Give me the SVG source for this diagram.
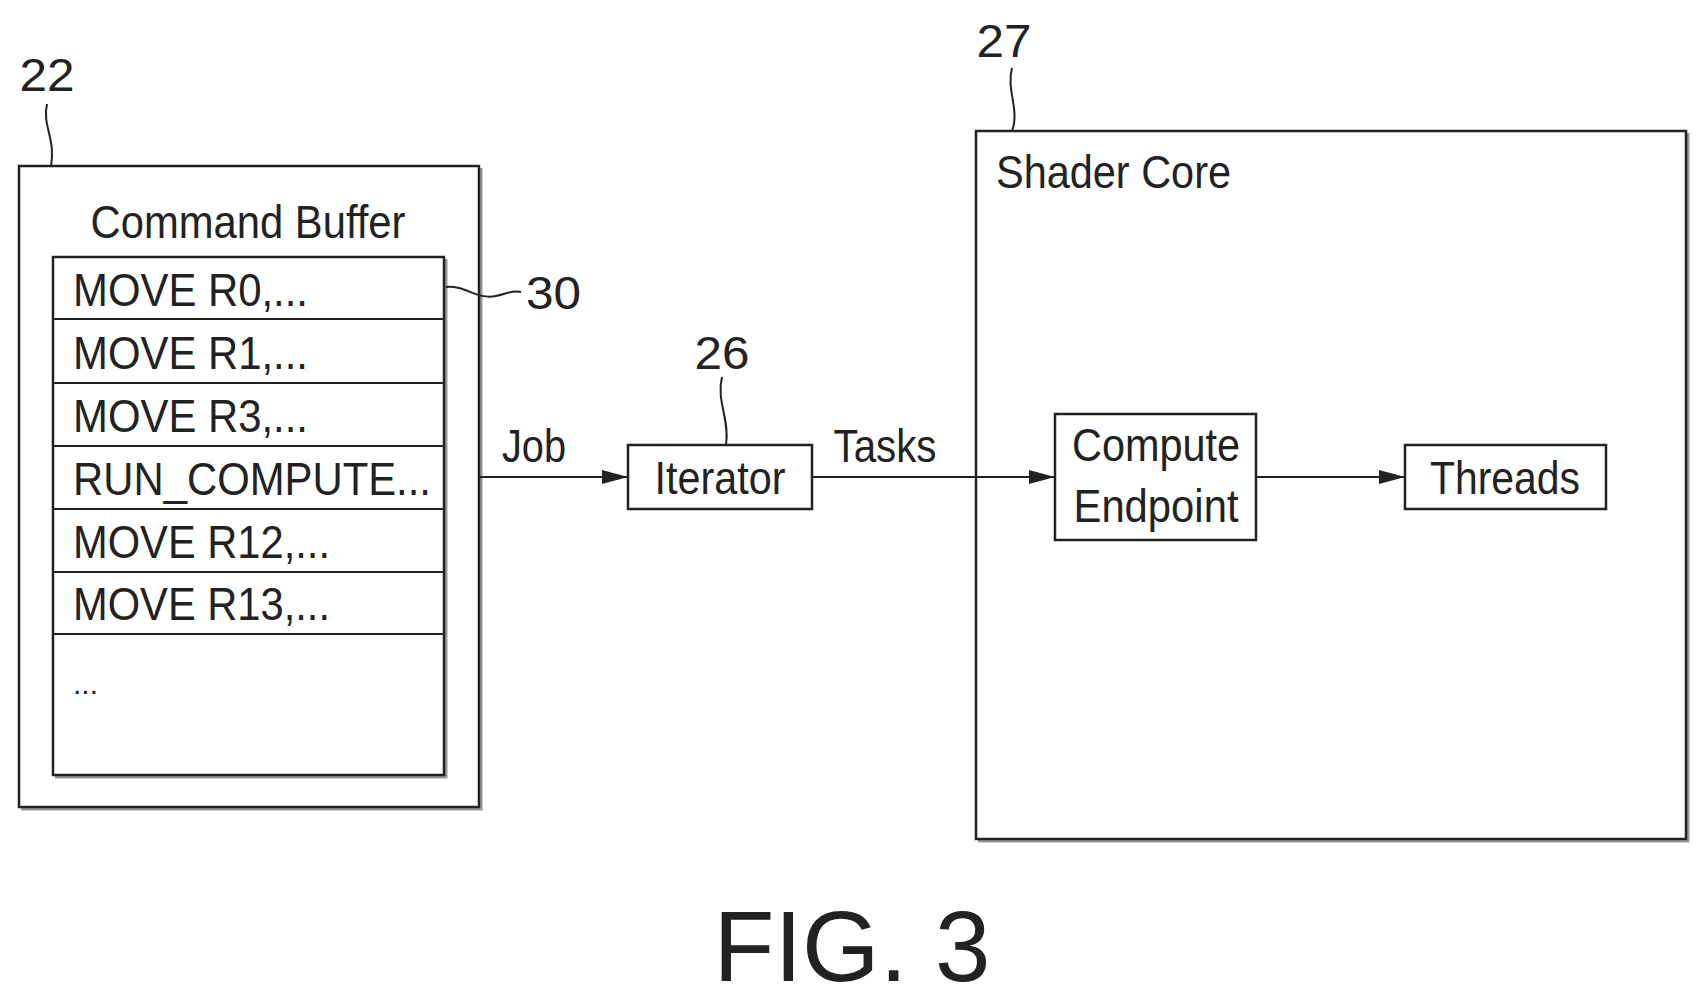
<svg xmlns="http://www.w3.org/2000/svg" width="1705" height="1004" viewBox="0 0 1705 1004">
<style>
.b{fill:#fff;stroke:#222;stroke-width:2.5}
.s{fill:none;stroke:#999;stroke-width:3}
.t{font-family:"Liberation Sans",Arial,sans-serif;font-size:46px;fill:#222}
.l{fill:none;stroke:#222;stroke-width:2}
</style>
<defs><marker id="a" viewBox="0 0 10 10" refX="10" refY="5" markerWidth="26" markerHeight="14" markerUnits="userSpaceOnUse" orient="auto" preserveAspectRatio="none"><path d="M0,0L10,5L0,10z" fill="#222"/></marker></defs>
<rect width="1705" height="1004" fill="#fff"/>
<g transform="translate(-4,0)">
<g id="cmdbuf">
<path class="s" d="M485,168V809H25"/>
<rect class="b" x="23" y="166" width="460" height="641"/>
<text class="t" x="252" y="238" text-anchor="middle" textLength="315" lengthAdjust="spacingAndGlyphs">Command Buffer</text>
<path class="s" d="M450,259V777H59"/>
<rect class="b" x="57" y="257" width="391" height="518"/>
<path class="l" d="M57,319H448M57,383H448M57,446H448M57,509H448M57,572H448M57,634H448"/>
<text class="t" x="77" y="306" textLength="235" lengthAdjust="spacingAndGlyphs">MOVE R0,...</text>
<text class="t" x="77" y="369" textLength="235" lengthAdjust="spacingAndGlyphs">MOVE R1,...</text>
<text class="t" x="77" y="432" textLength="235" lengthAdjust="spacingAndGlyphs">MOVE R3,...</text>
<text class="t" x="77" y="495" textLength="358" lengthAdjust="spacingAndGlyphs">RUN_COMPUTE...</text>
<text class="t" x="77" y="558" textLength="257" lengthAdjust="spacingAndGlyphs">MOVE R12,...</text>
<text class="t" x="77" y="620" textLength="257" lengthAdjust="spacingAndGlyphs">MOVE R13,...</text>
<text class="t" x="77" y="694" style="font-size:30px">...</text>
</g>
<g id="iterator">
<rect class="b" x="632" y="445" width="184" height="64"/>
<text class="t" x="724" y="494" text-anchor="middle" textLength="131" lengthAdjust="spacingAndGlyphs">Iterator</text>
</g>
<g id="shadercore">
<path class="s" d="M1692,133V841H982"/>
<rect class="b" x="980" y="131" width="710" height="708"/>
<text class="t" x="1000" y="188" textLength="235" lengthAdjust="spacingAndGlyphs">Shader Core</text>
</g>
<g id="endpoint">
<rect class="b" x="1059" y="414" width="201" height="126"/>
<text class="t" x="1160" y="461" text-anchor="middle" textLength="168" lengthAdjust="spacingAndGlyphs">Compute</text>
<text class="t" x="1160" y="522" text-anchor="middle" textLength="165" lengthAdjust="spacingAndGlyphs">Endpoint</text>
</g>
<g id="threads">
<rect class="b" x="1409" y="445" width="201" height="64"/>
<text class="t" x="1509" y="494" text-anchor="middle" textLength="150" lengthAdjust="spacingAndGlyphs">Threads</text>
</g>
<g id="connectors">
<path class="l" d="M483,477H632" marker-end="url(#a)"/>
<path class="l" d="M816,477H1059" marker-end="url(#a)"/>
<path class="l" d="M1260,477H1409" marker-end="url(#a)"/>
<path class="l" d="M51,104C46,125 60,140 55,166"/>
<path class="l" d="M726,377C720,400 734,420 730,445"/>
<path class="l" d="M1016,68C1010,90 1024,110 1016,131"/>
<path class="l" d="M450,287C470,285 480,300 500,296C510,294 515,290 525,292"/>
</g>
<g id="labels">
<text class="t" x="51" y="91" text-anchor="middle" textLength="55" lengthAdjust="spacingAndGlyphs">22</text>
<text class="t" x="530" y="309" textLength="55" lengthAdjust="spacingAndGlyphs">30</text>
<text class="t" x="726" y="369" text-anchor="middle" textLength="55" lengthAdjust="spacingAndGlyphs">26</text>
<text class="t" x="1008" y="57" text-anchor="middle" textLength="55" lengthAdjust="spacingAndGlyphs">27</text>
<text class="t" x="538" y="462" text-anchor="middle" textLength="64" lengthAdjust="spacingAndGlyphs">Job</text>
<text class="t" x="889" y="462" text-anchor="middle" textLength="103" lengthAdjust="spacingAndGlyphs">Tasks</text>
<text class="t" x="856" y="981" text-anchor="middle" style="font-size:100px" textLength="277" lengthAdjust="spacingAndGlyphs">FIG. 3</text>
</g>
</g>
</svg>
